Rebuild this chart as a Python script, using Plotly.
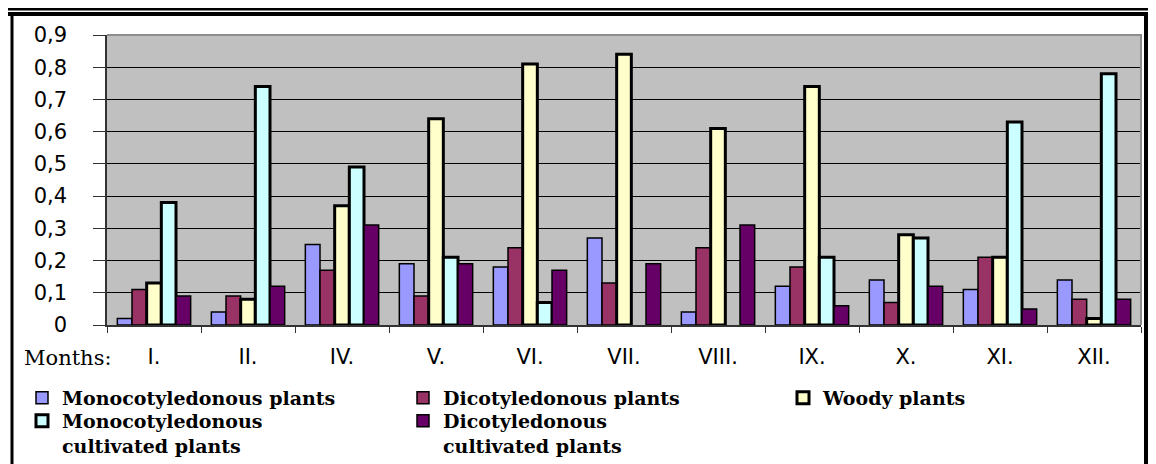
import plotly.graph_objects as go

# ---- data ----
months = ["I.", "II.", "IV.", "V.", "VI.", "VII.", "VIII.", "IX.", "X.", "XI.", "XII."]
mono_plants = [0.02, 0.04, 0.25, 0.19, 0.18, 0.27, 0.04, 0.12, 0.14, 0.11, 0.14]
dico_plants = [0.11, 0.09, 0.17, 0.09, 0.24, 0.13, 0.24, 0.18, 0.07, 0.21, 0.08]
woody_plants = [0.13, 0.08, 0.37, 0.64, 0.81, 0.84, 0.61, 0.74, 0.28, 0.21, 0.02]
mono_cultivated = [0.38, 0.74, 0.49, 0.21, 0.07, None, None, 0.21, 0.27, 0.63, 0.78]
dico_cultivated = [0.09, 0.12, 0.31, 0.19, 0.17, 0.19, 0.31, 0.06, 0.12, 0.05, 0.08]

series_names = [
    "Monocotyledonous plants",
    "Dicotyledonous plants",
    "Woody plants",
    "Monocotyledonous<br>cultivated plants",
    "Dicotyledonous<br>cultivated plants",
]
series_values = [mono_plants, dico_plants, woody_plants, mono_cultivated, dico_cultivated]
series_colors = ["#9999ff", "#993366", "#ffffcc", "#ccffff", "#660066"]
series_line_w = [1.5, 1.5, 3, 3, 1.5]
series_legend = ["legend", "legend", "legend3", "legend2", "legend2"]

# the page body has an 8px margin: the figure starts at (8, 8) in the window
OFF = 8
W, H = 1156 - OFF, 464 - OFF
ML, MT = 107 - OFF, 35 - OFF
MR = W - (1141 - OFF)
MB = H - (325 - OFF)
PW, PH = W - ML - MR, H - MT - MB


def px2x(wx):  # window pixel -> paper x
    return (wx - OFF - ML) / PW


def py2y(wy):  # window pixel -> paper y
    return (H - MB - (wy - OFF)) / PH


def cx(wx):  # window pixel -> container x
    return (wx - OFF) / W


def cy(wy):  # window pixel -> container y
    return 1 - (wy - OFF) / H


fig = go.Figure()
for name, vals, col, lw, lg in zip(series_names, series_values, series_colors, series_line_w, series_legend):
    fig.add_trace(go.Bar(
        x=months, y=vals, name=name,
        marker=dict(color=col, line=dict(color="black", width=lw)),
        legend=lg,
    ))

legend_font = dict(family="DejaVu Serif", size=19, color="black", weight="bold")
common_legend = dict(orientation="h", xref="container", yref="container",
                     xanchor="left", yanchor="top",
                     entrywidth=336, entrywidthmode="pixels", font=legend_font,
                     bgcolor="rgba(0,0,0,0)", tracegroupgap=0, valign="top")
fig.update_layout(
    width=W, height=H, autosize=False,
    margin=dict(l=ML, r=MR, t=MT, b=MB, pad=0, autoexpand=False),
    paper_bgcolor="white", plot_bgcolor="#c0c0c0",
    barmode="group", bargap=0.22, bargroupgap=0,
    separators=",.",
    showlegend=True,
    legend=dict(x=cx(22), y=cy(379), **common_legend),
    legend2=dict(x=cx(22), y=cy(402), **common_legend),
    legend3=dict(x=cx(783), y=cy(379), **common_legend),
    xaxis=dict(type="category", tickson="boundaries", ticks="outside", ticklen=6,
               tickcolor="#333333", showline=True, linecolor="#333333", linewidth=1.5,
               showgrid=False, ticklabelstandoff=12,
               tickfont=dict(family="DejaVu Sans", size=21, color="black")),
    yaxis=dict(range=[0, 0.9], tick0=0, dtick=0.1, ticks="outside", ticklen=12,
               tickcolor="#333333", showline=True, linecolor="#333333", linewidth=1.5,
               showgrid=True, gridcolor="black", gridwidth=1, zeroline=False,
               ticklabelstandoff=22,
               tickfont=dict(family="DejaVu Sans", size=21, color="black")),
)

fig.add_annotation(text="Months:", x=px2x(22), xanchor="left", y=py2y(358), yanchor="middle",
                   xref="paper", yref="paper", showarrow=False,
                   font=dict(family="DejaVu Serif", size=21, color="black"))

# plot-area border (gray, top & right)
fig.add_shape(type="path", path="M 0,1 L 1,1 L 1,0", xref="paper", yref="paper",
              line=dict(color="#8c8c8c", width=2), layer="above")
# outer frame: double top rule and side rules
frame = dict(xref="paper", yref="paper", layer="above")
fig.add_shape(type="line", x0=px2x(0), x1=px2x(1160), y0=py2y(9), y1=py2y(9),
              line=dict(color="black", width=3), **frame)
fig.add_shape(type="line", x0=px2x(0), x1=px2x(1160), y0=py2y(14), y1=py2y(14),
              line=dict(color="black", width=4), **frame)
fig.add_shape(type="line", x0=px2x(12), x1=px2x(12), y0=py2y(14), y1=py2y(470),
              line=dict(color="black", width=3), **frame)
fig.add_shape(type="line", x0=px2x(1146), x1=px2x(1146), y0=py2y(14), y1=py2y(470),
              line=dict(color="black", width=4), **frame)

fig.write_html("out.html")
